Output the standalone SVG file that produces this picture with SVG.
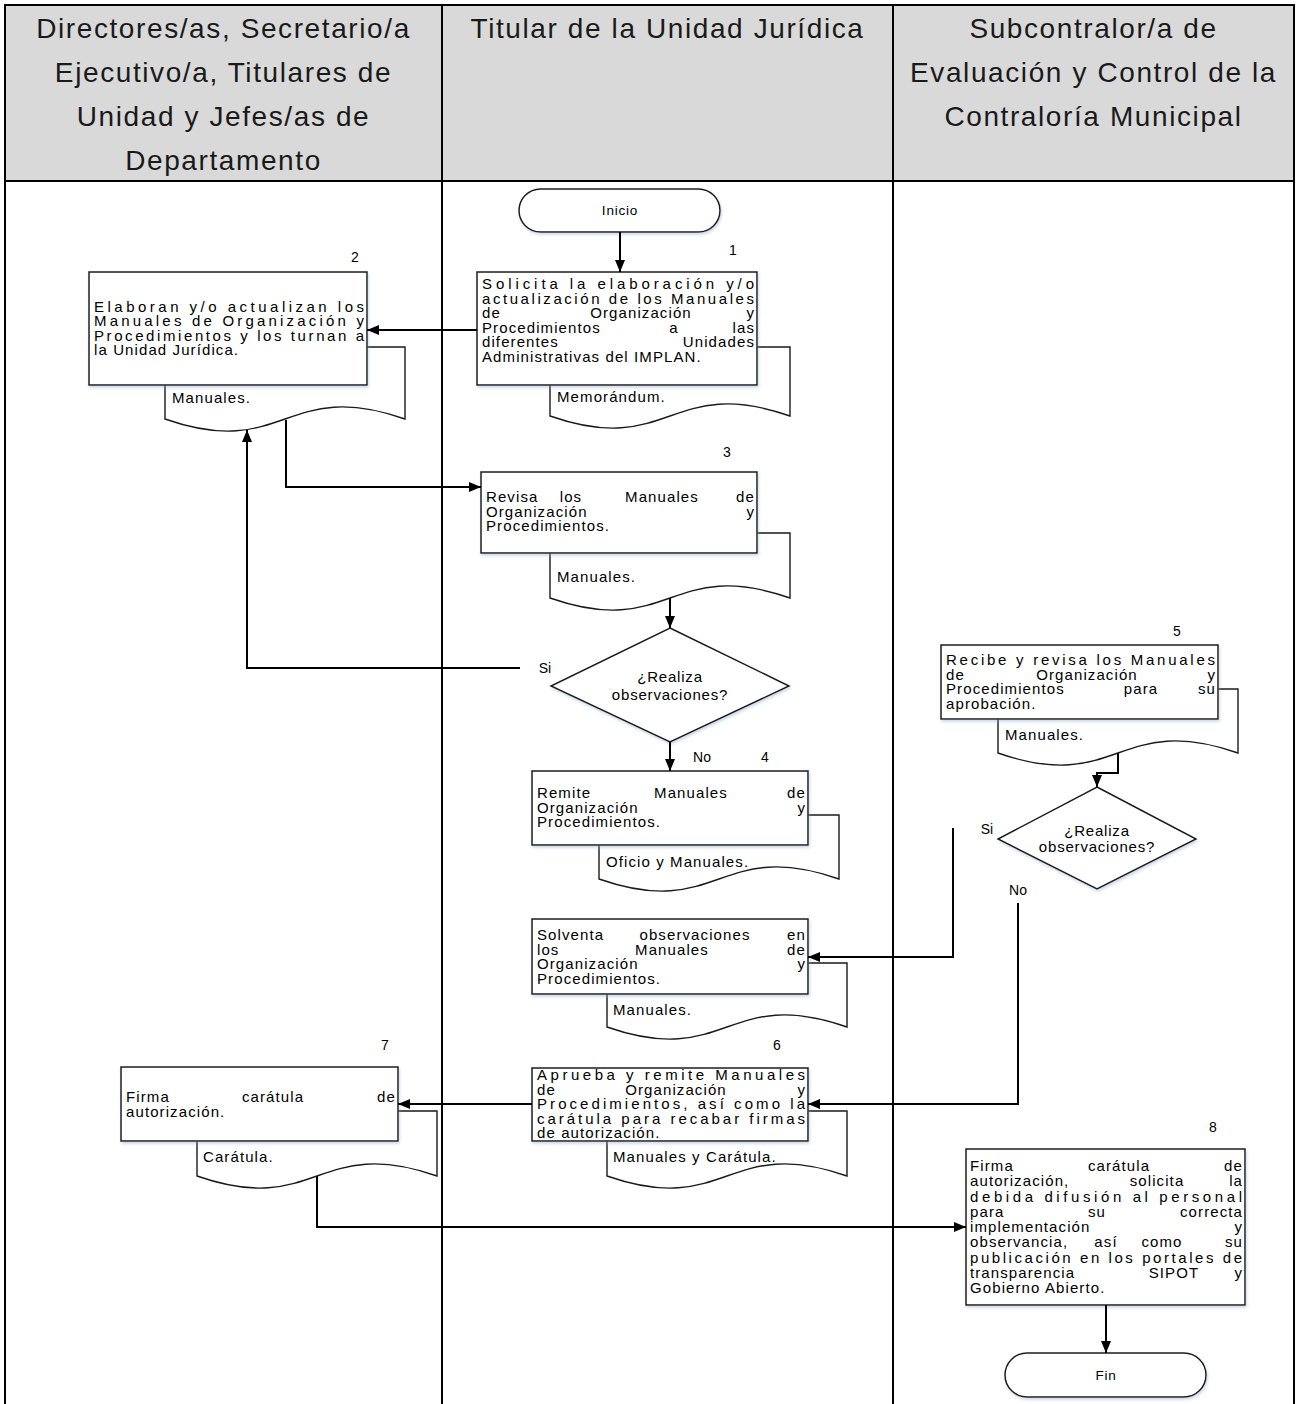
<svg xmlns="http://www.w3.org/2000/svg" width="1299" height="1404" viewBox="0 0 1299 1404">
<style>
.t{font-family:"Liberation Sans",Arial,sans-serif;font-size:15px;letter-spacing:1.1px;fill:#000}
.j{letter-spacing:0px}
.e{text-anchor:end}
.m{text-anchor:middle}
.n{font-family:"Liberation Sans",Arial,sans-serif;font-size:14px;text-anchor:middle;fill:#000}
.d{font-family:"Liberation Sans",Arial,sans-serif;font-size:15px;letter-spacing:0.8px;text-anchor:middle;fill:#000}
.hdr{font-family:"Liberation Sans",Arial,sans-serif;font-size:28px;letter-spacing:1.6px;text-anchor:middle;fill:#1a1a1a}
.box{fill:#fff;stroke:#1a1a1a;stroke-width:1.5}
.doc{fill:#fff;stroke:#1a1a1a;stroke-width:1.4}
.c{fill:none;stroke:#000;stroke-width:2}
.lane{fill:none;stroke:#000;stroke-width:2}
</style>
<defs>
<marker id="ah" viewBox="0 0 12 10" refX="12" refY="5" markerWidth="12" markerHeight="10" markerUnits="userSpaceOnUse" orient="auto">
<path d="M0,0 L12,5 L0,10 z" fill="#000"/>
</marker>
<filter id="sh" x="-5%" y="-5%" width="115%" height="125%">
<feDropShadow dx="1" dy="2" stdDeviation="1.5" flood-color="#8fa8c8" flood-opacity="0.45"/>
</filter>
</defs>

<g id="lanes">
<rect x="5" y="5" width="1289" height="176" fill="#d9d9d9"/>
<path class="lane" d="M4,5 H1295 M5,181 H1294 M5,4 V1404 M442,5 V1404 M893,5 V1404 M1294,4 V1404"/>
<text class="hdr" x="223.5" y="38">Directores/as, Secretario/a</text>
<text class="hdr" x="223.5" y="82">Ejecutivo/a, Titulares de</text>
<text class="hdr" x="223.5" y="126">Unidad y Jefes/as de</text>
<text class="hdr" x="223.5" y="170">Departamento</text>
<text class="hdr" x="667.5" y="38">Titular de la Unidad Jurídica</text>
<text class="hdr" x="1093.5" y="38">Subcontralor/a de</text>
<text class="hdr" x="1093.5" y="82">Evaluación y Control de la</text>
<text class="hdr" x="1093.5" y="126">Contraloría Municipal</text>
</g>

<g id="inicio">
<rect class="box" filter="url(#sh)" x="519" y="189" width="201" height="43" rx="21.5"/>
<text class="n" x="620" y="215" style="font-size:13.5px;letter-spacing:0.8px">Inicio</text>
</g>

<g id="n1">
<path class="doc" d="M550,347 H790 V416 C670,374 670,458 550,416 Z"/>
<rect class="box" filter="url(#sh)" x="477" y="272" width="280" height="113"/>
<text class="n" x="733" y="255">1</text>
<text class="t j" x="482" y="289" textLength="272" lengthAdjust="spacing">Solicita la elaboración y/o</text>
<text class="t j" x="482" y="303.5" textLength="272" lengthAdjust="spacing">actualización de los Manuales</text>
<text class="t" x="482" y="318">de</text><text class="t m" x="641" y="318">Organización</text><text class="t e" x="755" y="318">y</text>
<text class="t" x="482" y="332.5">Procedimientos</text><text class="t m" x="674" y="332.5">a</text><text class="t e" x="755" y="332.5">las</text>
<text class="t" x="482" y="347">diferentes</text><text class="t e" x="755" y="347">Unidades</text>
<text class="t" x="482" y="361.5">Administrativas del IMPLAN.</text>
<text class="t" x="557" y="402">Memorándum.</text>
</g>

<g id="n2">
<path class="doc" d="M165,347 H405 V419 C285,377 285,461 165,419 Z"/>
<rect class="box" filter="url(#sh)" x="89" y="272" width="278" height="113"/>
<text class="n" x="355" y="262">2</text>
<text class="t j" x="94" y="311.5" textLength="270" lengthAdjust="spacing">Elaboran y/o actualizan los</text>
<text class="t j" x="94" y="326" textLength="270" lengthAdjust="spacing">Manuales de Organización y</text>
<text class="t j" x="94" y="340.5" textLength="270" lengthAdjust="spacing">Procedimientos y los turnan a</text>
<text class="t" x="94" y="355">la Unidad Jurídica.</text>
<text class="t" x="172" y="403">Manuales.</text>
</g>

<g id="n3">
<path class="doc" d="M550,533 H790 V598 C670,556 670,640 550,598 Z"/>
<rect class="box" filter="url(#sh)" x="481" y="472" width="276" height="81"/>
<text class="n" x="727" y="457">3</text>
<text class="t" x="486" y="502">Revisa</text><text class="t m" x="571" y="502">los</text><text class="t m" x="662" y="502">Manuales</text><text class="t e" x="755" y="502">de</text>
<text class="t" x="486" y="516.5">Organización</text><text class="t e" x="755" y="516.5">y</text>
<text class="t" x="486" y="531">Procedimientos.</text>
<text class="t" x="557" y="582">Manuales.</text>
</g>

<g id="d1">
<polygon class="box" filter="url(#sh)" points="670,628 789,686 670,742 551,686"/>
<text class="d" x="670" y="682">¿Realiza</text>
<text class="d" x="670" y="700">observaciones?</text>
</g>

<g id="n4">
<path class="doc" d="M599,815 H839 V879 C719,837 719,921 599,879 Z"/>
<rect class="box" filter="url(#sh)" x="532" y="771" width="276" height="74"/>
<text class="n" x="765" y="762">4</text>
<text class="t" x="537" y="798">Remite</text><text class="t m" x="691" y="798">Manuales</text><text class="t e" x="806" y="798">de</text>
<text class="t" x="537" y="812.5">Organización</text><text class="t e" x="806" y="812.5">y</text>
<text class="t" x="537" y="827">Procedimientos.</text>
<text class="t" x="606" y="867">Oficio y Manuales.</text>
</g>

<g id="ns">
<path class="doc" d="M607,963 H847 V1027 C727,985 727,1069 607,1027 Z"/>
<rect class="box" filter="url(#sh)" x="532" y="919" width="276" height="75"/>
<text class="t" x="537" y="940">Solventa</text><text class="t m" x="695" y="940">observaciones</text><text class="t e" x="806" y="940">en</text>
<text class="t" x="537" y="954.5">los</text><text class="t m" x="672" y="954.5">Manuales</text><text class="t e" x="806" y="954.5">de</text>
<text class="t" x="537" y="969">Organización</text><text class="t e" x="806" y="969">y</text>
<text class="t" x="537" y="983.5">Procedimientos.</text>
<text class="t" x="613" y="1015">Manuales.</text>
</g>

<g id="n5">
<path class="doc" d="M998,689 H1238 V753 C1118,711 1118,795 998,753 Z"/>
<rect class="box" filter="url(#sh)" x="941" y="645" width="277" height="74"/>
<text class="n" x="1177" y="636">5</text>
<text class="t j" x="946" y="665" textLength="269" lengthAdjust="spacing">Recibe y revisa los Manuales</text>
<text class="t" x="946" y="679.5">de</text><text class="t m" x="1087" y="679.5">Organización</text><text class="t e" x="1216" y="679.5">y</text>
<text class="t" x="946" y="694">Procedimientos</text><text class="t m" x="1141" y="694">para</text><text class="t e" x="1216" y="694">su</text>
<text class="t" x="946" y="708.5">aprobación.</text>
<text class="t" x="1005" y="740">Manuales.</text>
</g>

<g id="d2">
<polygon class="box" filter="url(#sh)" points="1097,787 1196,839 1097,889 998,839"/>
<text class="d" x="1097" y="836">¿Realiza</text>
<text class="d" x="1097" y="852">observaciones?</text>
</g>

<g id="n6">
<path class="doc" d="M607,1111 H847 V1176 C727,1134 727,1218 607,1176 Z"/>
<rect class="box" filter="url(#sh)" x="532" y="1068" width="276" height="73"/>
<text class="n" x="777" y="1050">6</text>
<text class="t j" x="537" y="1080" textLength="268" lengthAdjust="spacing">Aprueba y remite Manuales</text>
<text class="t" x="537" y="1094.5">de</text><text class="t m" x="676" y="1094.5">Organización</text><text class="t e" x="806" y="1094.5">y</text>
<text class="t j" x="537" y="1109" textLength="268" lengthAdjust="spacing">Procedimientos, así como la</text>
<text class="t j" x="537" y="1123.5" textLength="268" lengthAdjust="spacing">carátula para recabar firmas</text>
<text class="t" x="537" y="1138">de autorización.</text>
<text class="t" x="613" y="1162">Manuales y Carátula.</text>
</g>

<g id="n7">
<path class="doc" d="M197,1111 H437 V1176 C317,1134 317,1218 197,1176 Z"/>
<rect class="box" filter="url(#sh)" x="121" y="1067" width="277" height="74"/>
<text class="n" x="385" y="1050">7</text>
<text class="t" x="126" y="1102">Firma</text><text class="t m" x="273" y="1102">carátula</text><text class="t e" x="396" y="1102">de</text>
<text class="t" x="126" y="1116.5">autorización.</text>
<text class="t" x="203" y="1162">Carátula.</text>
</g>

<g id="n8">
<rect class="box" filter="url(#sh)" x="966" y="1149" width="279" height="156"/>
<text class="n" x="1213" y="1132">8</text>
<text class="t" x="970" y="1171">Firma</text><text class="t m" x="1119" y="1171">carátula</text><text class="t e" x="1243" y="1171">de</text>
<text class="t" x="970" y="1186">autorización,</text><text class="t m" x="1157" y="1186">solicita</text><text class="t e" x="1243" y="1186">la</text>
<text class="t j" x="970" y="1201.5" textLength="272" lengthAdjust="spacing">debida difusión al personal</text>
<text class="t" x="970" y="1216.5">para</text><text class="t m" x="1097" y="1216.5">su</text><text class="t e" x="1243" y="1216.5">correcta</text>
<text class="t" x="970" y="1232">implementación</text><text class="t e" x="1243" y="1232">y</text>
<text class="t" x="970" y="1247">observancia,</text><text class="t m" x="1106" y="1247">así</text><text class="t m" x="1162" y="1247">como</text><text class="t e" x="1243" y="1247">su</text>
<text class="t j" x="970" y="1262.5" textLength="272" lengthAdjust="spacing">publicación en los portales de</text>
<text class="t" x="970" y="1277.5">transparencia</text><text class="t m" x="1174" y="1277.5">SIPOT</text><text class="t e" x="1243" y="1277.5">y</text>
<text class="t" x="970" y="1293">Gobierno Abierto.</text>
</g>

<g id="fin">
<rect class="box" filter="url(#sh)" x="1005" y="1353" width="201" height="44" rx="22"/>
<text class="n" x="1106" y="1380" style="font-size:13.5px;letter-spacing:0.8px">Fin</text>
</g>

<g id="connectors">
<path class="c" marker-end="url(#ah)" d="M620,232 V272"/>
<path class="c" marker-end="url(#ah)" d="M477,330 H367"/>
<path class="c" marker-end="url(#ah)" d="M286,420 V487 H481"/>
<path class="c" marker-end="url(#ah)" d="M670,598 V628"/>
<path class="c" marker-end="url(#ah)" d="M520,668 H247 V430"/>
<path class="c" marker-end="url(#ah)" d="M670,742 V771"/>
<path class="c" marker-end="url(#ah)" d="M1118,753 V773 H1097 V787"/>
<path class="c" marker-end="url(#ah)" d="M953,828 V957 H808"/>
<path class="c" marker-end="url(#ah)" d="M1018,903 V1104 H808"/>
<path class="c" marker-end="url(#ah)" d="M532,1104 H398"/>
<path class="c" marker-end="url(#ah)" d="M317,1176 V1227 H966"/>
<path class="c" marker-end="url(#ah)" d="M1106,1305 V1353"/>
<text class="n" x="545" y="673">Si</text>
<text class="n" x="702" y="762">No</text>
<text class="n" x="987" y="834">Si</text>
<text class="n" x="1018" y="895">No</text>
</g>
</svg>
